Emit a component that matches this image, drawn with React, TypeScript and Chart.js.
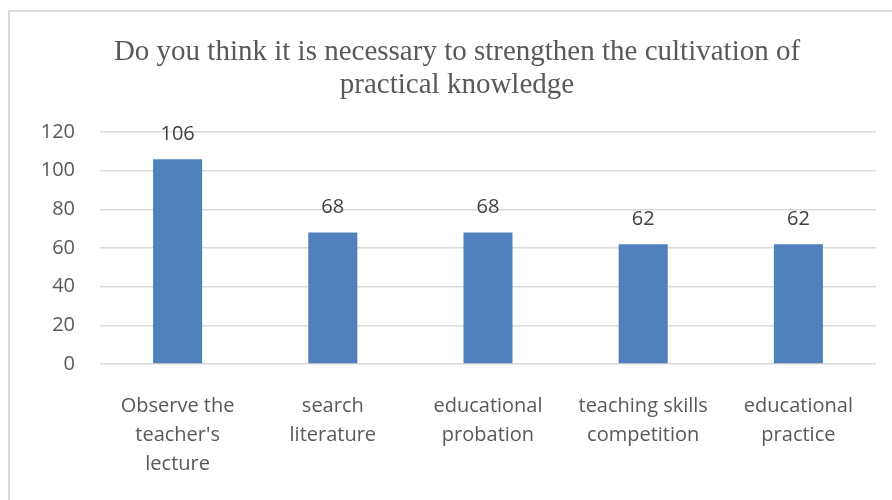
import React, { useEffect, useRef } from "react";
import { Chart, registerables } from "chart.js";

Chart.register(...registerables);

const titleLines = [
  "Do you think it is necessary to strengthen the cultivation of",
  "practical knowledge",
];
const categories: string[][] = [
  ["Observe the", "teacher's", "lecture"],
  ["search", "literature"],
  ["educational", "probation"],
  ["teaching skills", "competition"],
  ["educational", "practice"],
];
const values = [106, 68, 68, 62, 62];
const yTicks = { min: 0, max: 120, step: 20 };

const SANS = "'Open Sans', 'Liberation Sans', sans-serif";

const valueLabels = {
  id: "valueLabels",
  afterDatasetsDraw(chart: any) {
    const ctx = chart.ctx;
    const meta = chart.getDatasetMeta(0);
    ctx.save();
    ctx.font = `20px ${SANS}`;
    ctx.fillStyle = "#404040";
    ctx.textAlign = "center";
    ctx.textBaseline = "middle";
    meta.data.forEach((bar: any, i: number) => {
      ctx.fillText(String(values[i]), bar.x, bar.y - 25);
    });
    ctx.restore();
  },
};

export default function App() {
  const ref = useRef<HTMLCanvasElement | null>(null);
  useEffect(() => {
    if (!ref.current) return;
    const chart = new Chart(ref.current, {
      type: "bar",
      data: {
        labels: categories,
        datasets: [
          {
            data: values,
            backgroundColor: "#4f81bd",
            borderWidth: 0,
            categoryPercentage: 1,
            barPercentage: 0.316,
          },
        ],
      },
      options: {
        responsive: false,
        animation: false,
        layout: { padding: { left: 38, right: 22, top: 36, bottom: 0 } },
        plugins: {
          legend: { display: false },
          tooltip: { enabled: false },
          title: {
            display: true,
            text: titleLines,
            color: "#595959",
            font: { family: "'Liberation Serif', 'Times New Roman', serif", size: 29, weight: "normal", lineHeight: 1.14 },
            padding: { top: 0, bottom: 30 },
          },
        },
        scales: {
          x: {
            grid: { display: false },
            border: { display: false },
            ticks: {
              color: "#595959",
              font: { family: SANS, size: 20, lineHeight: 1.45 },
              maxRotation: 0,
              autoSkip: false,
              padding: 20,
            },
            afterFit: (s: any) => {
              s.height = 136;
            },
          },
          y: {
            min: yTicks.min,
            max: yTicks.max,
            border: { display: false },
            grid: { color: "#d9d9d9", lineWidth: 1.5, drawTicks: false },
            ticks: {
              stepSize: yTicks.step,
              color: "#595959",
              font: { family: SANS, size: 20 },
              padding: 25,
            },
            afterFit: (s: any) => {
              s.width = 62;
            },
          },
        },
      },
      plugins: [valueLabels],
    });
    return () => chart.destroy();
  }, []);
  return (
    <div style={{ position: "fixed", left: 0, top: 0, width: 892, height: 500, overflow: "hidden", background: "#fff" }}>
      <div
        style={{
          position: "absolute",
          left: 8,
          top: 10,
          width: 950,
          height: 600,
          border: "2px solid #d9d9d9",
        }}
      />
      <canvas ref={ref} width={898} height={500} style={{ position: "absolute", left: 0, top: 0 }} />
    </div>
  );
}
